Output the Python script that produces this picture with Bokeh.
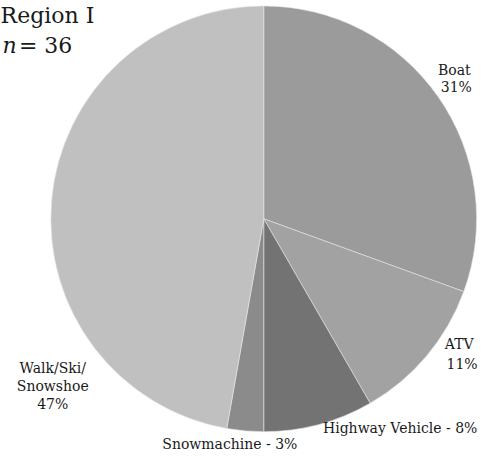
from bokeh.plotting import figure
from bokeh.models import Range1d, ColumnDataSource
from bokeh.core.properties import value
from bokeh.embed import file_html
from bokeh.resources import INLINE
import math

# ---- data ----
categories = ["Boat", "ATV", "Highway Vehicle", "Snowmachine", "Walk/Ski/Snowshoe"]
counts = [11, 4, 3, 1, 17]
pct_labels = ["31%", "11%", "8%", "3%", "47%"]
colors = ["#9b9b9b", "#a2a2a2", "#737373", "#8b8b8b", "#c0c0c0"]
title_line1 = "Region I"
n_total = 36

W, H = 480, 454
# data coordinates are the reference picture's pixels (496 x 470), y flipped
RW, RH = 496, 470
def Y(yp):
    return RH - yp

p = figure(width=W, height=H, output_backend="svg", toolbar_location=None,
           x_range=Range1d(0, RW), y_range=Range1d(0, RH),
           min_border=0, outline_line_color=None)
p.axis.visible = False
p.grid.visible = False
p.background_fill_color = "white"
p.border_fill_color = "white"

total = sum(counts)
starts, ends = [], []
cum = 0
for c in counts:
    starts.append(math.pi / 2 - 2 * math.pi * cum / total)
    cum += c
    ends.append(math.pi / 2 - 2 * math.pi * cum / total)

src = ColumnDataSource(dict(start=starts, end=ends, color=colors, name=categories))
cx, cy, r = 272, Y(226), 220
p.wedge(x=cx, y=cy, radius=r, start_angle="start", end_angle="end",
        direction="clock", fill_color="color", line_color="#e6e6e6",
        line_width=0.6, source=src)

font = value("DejaVu Serif")
fs = "14px"

def txt(x, y, s, align="center", size=fs, style="normal", baseline="middle"):
    p.text(x=[x], y=[Y(y)], text=[s], text_font=font, text_font_size=size,
           text_align=align, text_baseline=baseline, text_color="#1a1a1a",
           text_font_style=style)

# slice labels
txt(469, 72, categories[0])
txt(471, 90, pct_labels[0])
txt(474, 356, categories[1])
txt(477, 376, pct_labels[1])
txt(413, 443, categories[2] + " - " + pct_labels[2])
txt(237, 459, categories[3] + " - " + pct_labels[3])
txt(54, 380, "Walk/Ski/")
txt(54, 399, "Snowshoe")
txt(54, 418, pct_labels[4])

# title
txt(97, 16, title_line1, align="right", size="22px", baseline="alphabetic")
txt(19, 47, "= " + str(n_total), align="left", size="22px", baseline="alphabetic")
txt(2, 47, "n", align="left", size="22px", style="italic", baseline="alphabetic")

open("out.html", "w").write(file_html(p, INLINE))
